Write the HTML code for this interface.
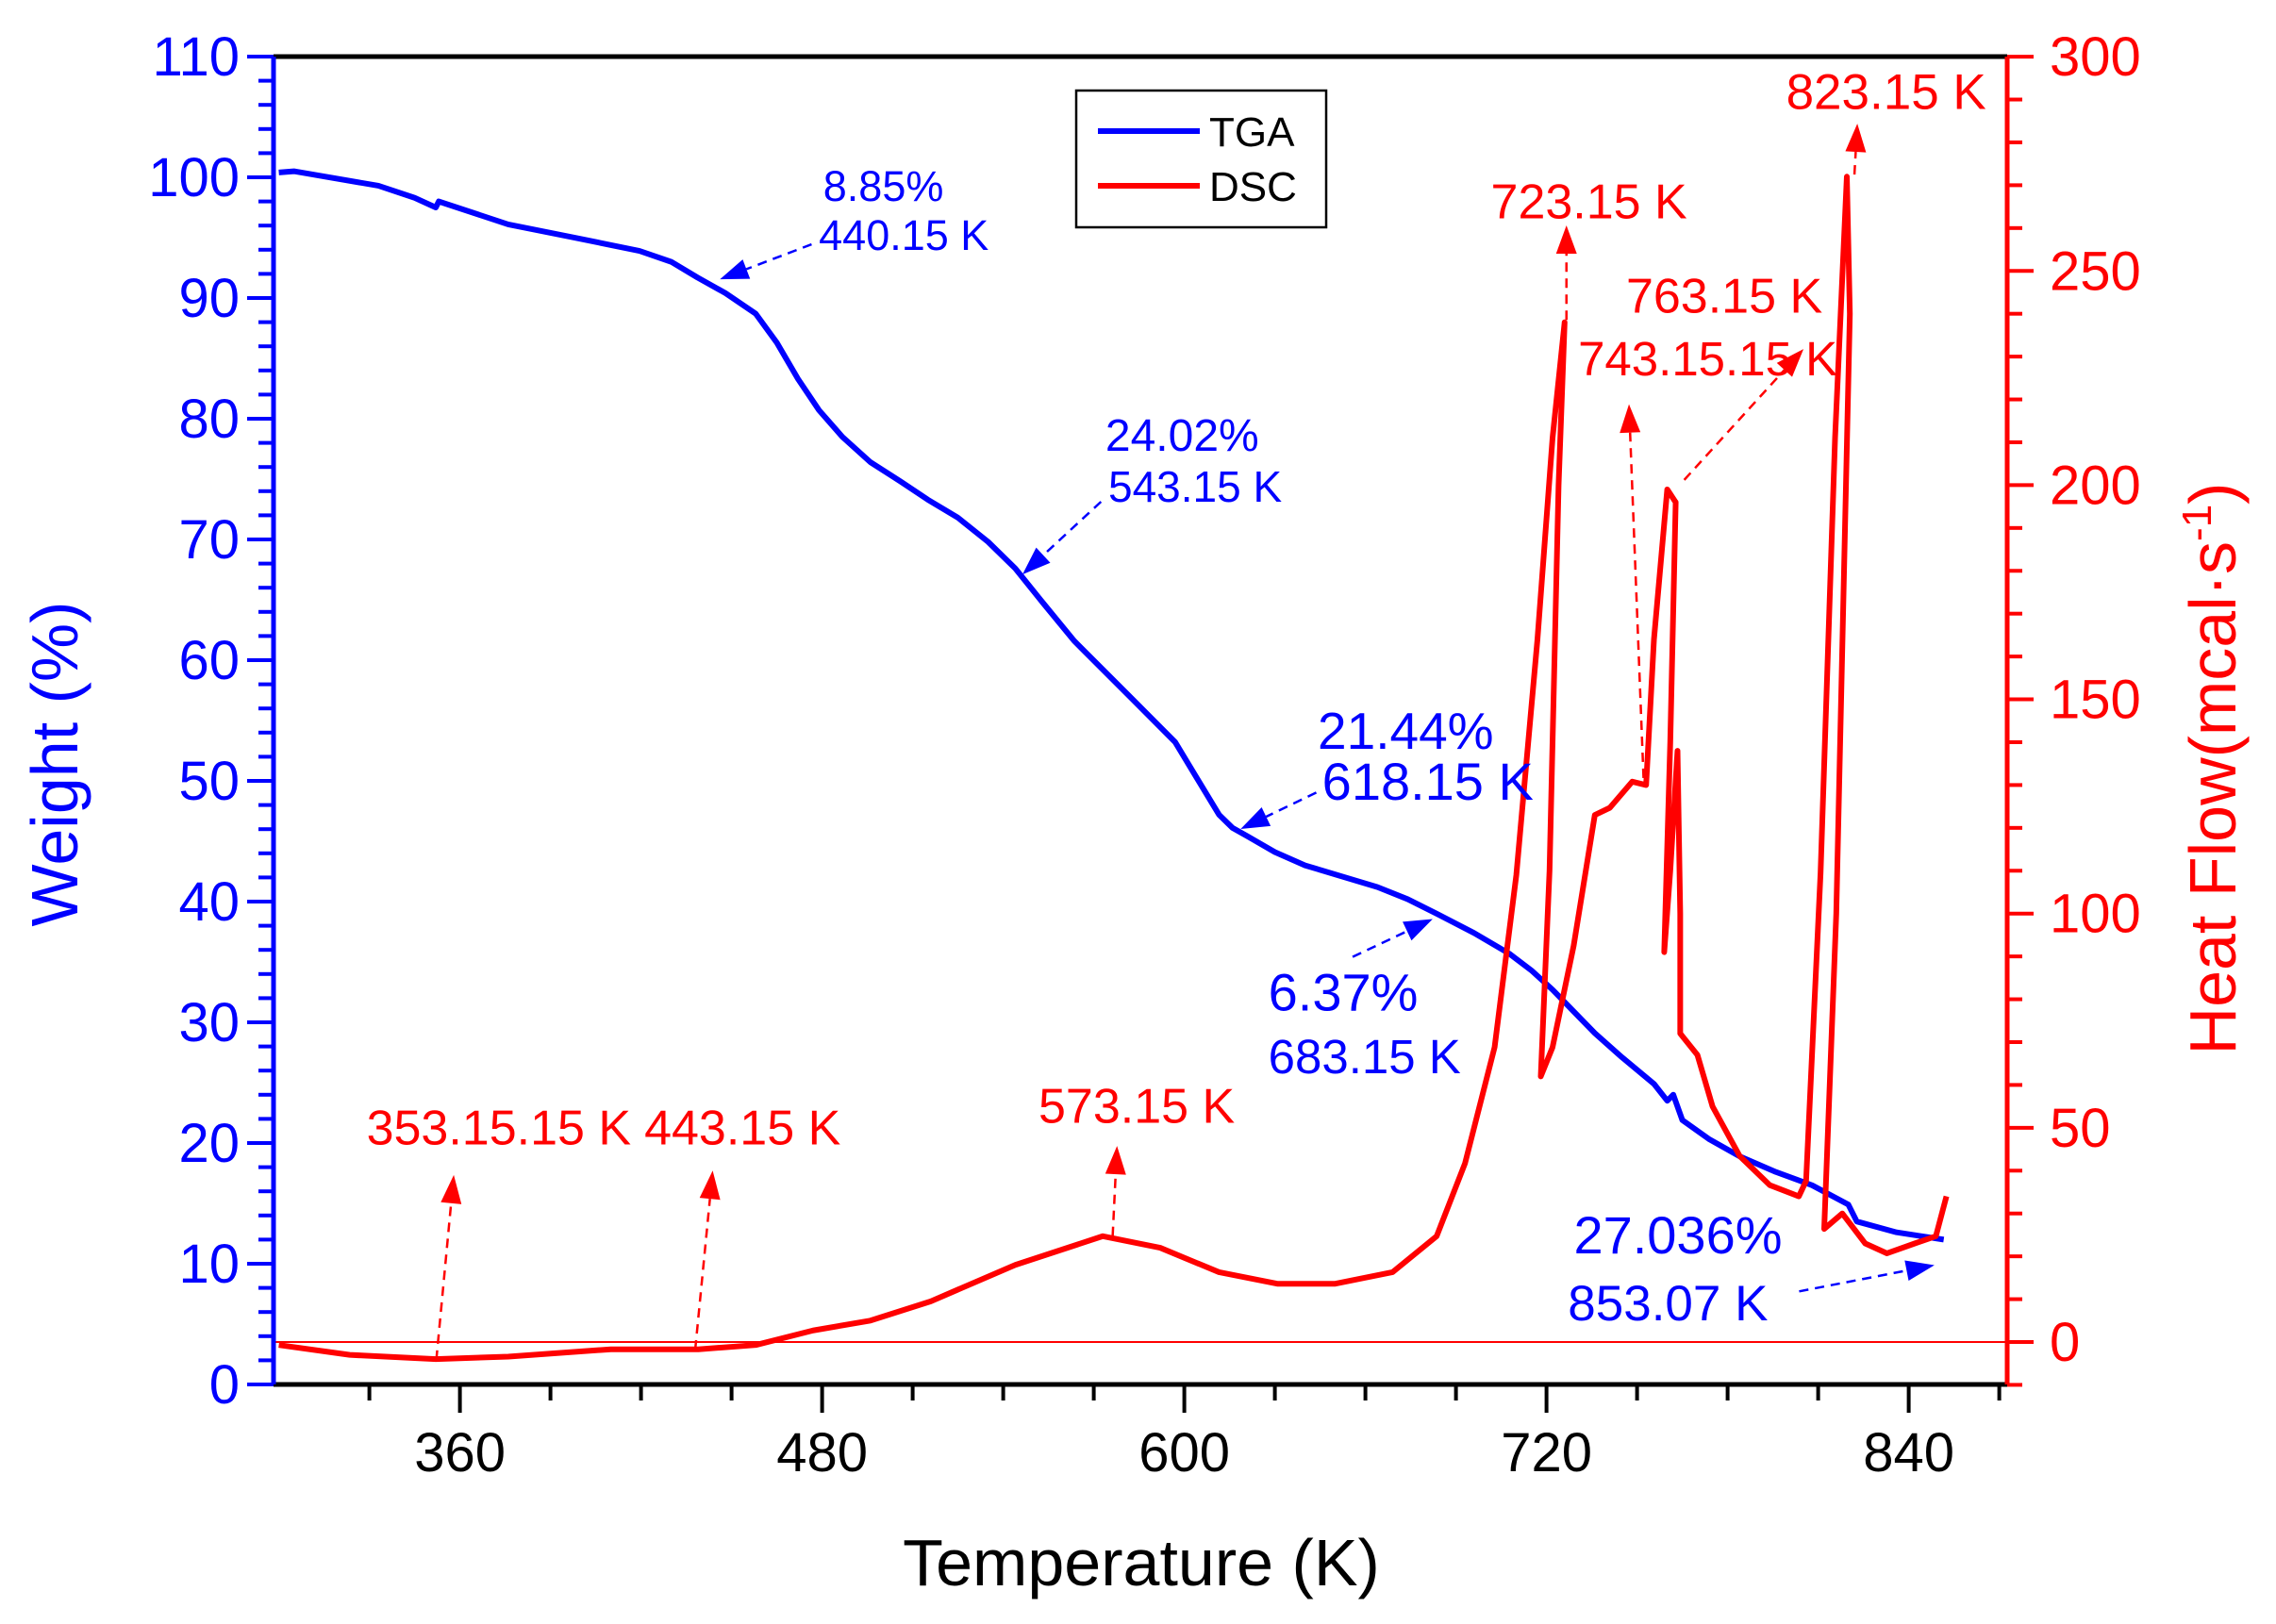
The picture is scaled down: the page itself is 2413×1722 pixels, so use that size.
<!DOCTYPE html>
<html><head><meta charset="utf-8"><style>
html,body{margin:0;padding:0;background:#fff}
svg{display:block;font-family:"Liberation Sans",Arial,sans-serif}
</style></head><body>
<svg id="chart" width="2413" height="1722" viewBox="0 0 2413 1722" xmlns="http://www.w3.org/2000/svg">
<g id="axes"></g>
<g id="series"></g>
<g id="annot"></g>
<g>
<rect x="1141" y="96" width="265" height="145" fill="#fff" stroke="#000" stroke-width="2.5"/>
<line x1="1164" y1="139" x2="1272" y2="139" stroke="#0000ff" stroke-width="6"/>
<text x="1282" y="155" font-size="44">TGA</text>
<line x1="1164" y1="197" x2="1272" y2="197" stroke="#ff0000" stroke-width="6"/>
<text x="1282" y="213" font-size="44">DSC</text>
</g>
<text x="1210" y="1681" font-size="70" text-anchor="middle">Temperature (K)</text>
<text transform="translate(82,810) rotate(-90)" font-size="70" fill="#0000ff" text-anchor="middle">Weight (%)</text>
<text transform="translate(2370,815) rotate(-90)" font-size="70" fill="#ff0000" text-anchor="middle">Heat Flow(mcal·s<tspan dy="-26" font-size="44">-1</tspan><tspan dy="26">)</tspan></text>
</svg>
<script>
const tgaT=[300,305,333,345,352,353,376,400,419.5,430,438.7,448,458,465,472,479,486.7,496,506,515,525,535,544,553,563.5,582.7,597,604,611.5,616,621,630,640,652,664,674,683.6,696,707.6,715,722,729,736,745,755.6,760,762,765,774,784,796,808,820,822.8,836,851.6];
const tgaW=[100.4,100.5,99.3,98.3,97.5,98.0,96.1,94.9,93.9,93.0,91.7,90.4,88.7,86.3,83.3,80.7,78.5,76.4,74.8,73.3,71.8,69.8,67.6,64.8,61.6,56.8,53.2,50.3,47.2,46.1,45.4,44.1,43,42.1,41.2,40.2,39,37.4,35.7,34.3,32.7,30.9,29.1,27.1,24.9,23.5,24.0,21.9,20.3,18.9,17.6,16.5,14.9,13.5,12.6,12.0];
const dscT=[300,323.5,352,376,410,439,458,477,496,516,544,573,592,611.5,630.8,650,669,683.6,693,702.8,710,717,722,726,724,721,718.1,722,729,736,741,748.4,753,755.6,760,762.8,761,759,761,763.4,764.3,764.3,770,775,784,794,803.6,806,810.8,815.6,819.5,820.5,816,812,818,825.6,832.8,842,849,852.5];
const dscH=[-0.7,-3,-4,-3.4,-1.7,-1.7,-0.7,2.7,5,9.5,18,24.7,22,16.3,13.6,13.6,16.3,24.7,41.7,68.8,109,164,211,238,200,110,62,68.8,92.5,123,124.7,130.8,130,164,199,196,140,91,110,138,100,72,67,55,43.4,36.6,34,37.6,109.5,211,272,240,100,26.4,30,23,20.7,23,24.7,34];
const xTicks=[360,480,600,720,840];
const xMinor=[330,390,420,450,510,540,570,630,660,690,750,780,810,870];
const yLeftTicks=[0,10,20,30,40,50,60,70,80,90,100,110];
const yRightTicks=[0,50,100,150,200,250,300];

const X=T=>487.6+(T-360)*3.2;
const YL=W=>1468-W*12.8;
const YR=H=>1423-H*4.543;
const L=290,R=2128,TOP=60,BOT=1468;
const NS='http://www.w3.org/2000/svg';
function mk(tag,attrs,parent){const e=document.createElementNS(NS,tag);for(const k in attrs)e.setAttribute(k,attrs[k]);parent.appendChild(e);return e;}
const ax=document.getElementById('axes');
let z=mk('line',{x1:L,y1:YR(0),x2:R,y2:YR(0),stroke:'#ff0000','stroke-width':2},ax);


let tp=mk('line',{x1:L,y1:TOP,x2:R,y2:TOP,stroke:'#000','stroke-width':5},ax);


let bt=mk('line',{x1:L,y1:BOT,x2:R,y2:BOT,stroke:'#000','stroke-width':5},ax);


xTicks.forEach(t=>{let l=mk('line',{x1:X(t),y1:BOT,x2:X(t),y2:BOT+30,stroke:'#000','stroke-width':4},ax);


let tx=mk('text',{x:X(t),y:BOT+92,'font-size':58,'text-anchor':'middle'},ax);tx.textContent=t;

});
xMinor.forEach(t=>{if(X(t)>=R)return;let l=mk('line',{x1:X(t),y1:BOT,x2:X(t),y2:BOT+17,stroke:'#000','stroke-width':4},ax);

});
let la=mk('line',{x1:L,y1:TOP,x2:L,y2:BOT,stroke:'#0000ff','stroke-width':5},ax);


for(let w=0;w<=110;w+=2){const maj=w%10===0;let l=mk('line',{x1:L-(maj?28:16),y1:YL(w),x2:L,y2:YL(w),stroke:'#0000ff','stroke-width':4},ax);

}
yLeftTicks.forEach(w=>{let tx=mk('text',{x:L-36,y:YL(w)+20,'font-size':58,'text-anchor':'end',fill:'#0000ff'},ax);tx.textContent=w;

});
let ra=mk('line',{x1:R,y1:TOP,x2:R,y2:BOT,stroke:'#ff0000','stroke-width':5},ax);


for(let h=-10;h<=300;h+=10){const maj=h%50===0;let l=mk('line',{x1:R,y1:YR(h),x2:R+(maj?28:16),y2:YR(h),stroke:'#ff0000','stroke-width':4},ax);

}
yRightTicks.forEach(h=>{let tx=mk('text',{x:R+45,y:YR(h)+20,'font-size':58,fill:'#ff0000'},ax);tx.textContent=h;

});

const sg=document.getElementById('series');
let tg=mk('polyline',{points:tgaT.map((t,i)=>X(t)+','+YL(tgaW[i])).join(' '),fill:'none',stroke:'#0000ff','stroke-width':6,'stroke-linejoin':'round'},sg);


let ds=mk('polyline',{points:dscT.map((t,i)=>X(t)+','+YR(dscH[i])).join(' '),fill:'none',stroke:'#ff0000','stroke-width':6,'stroke-linejoin':'round'},sg);



const an=document.getElementById('annot');
const f=1.542;
function lab(txt,x,y,col,fs,name){let t=mk('text',{x:x*f,y:y*f,'font-size':fs,fill:col},an);t.textContent=txt;

}
function arr(x1,y1,x2,y2,col,name){let dx=x2-x1,dy=y2-y1,d=Math.hypot(dx,dy),ux=dx/d,uy=dy/d,px=-uy,py=ux,tx=x2*f,ty=y2*f,len=30,w=11;
let l=mk('line',{x1:x1*f,y1:y1*f,x2:tx-ux*len,y2:ty-uy*len,stroke:col,'stroke-width':2.5,'stroke-dasharray':'10,7'},an);


let p=mk('polygon',{points:`${tx},${ty} ${tx-ux*len+px*w},${ty-uy*len+py*w} ${tx-ux*len-px*w},${ty-uy*len-py*w}`,fill:col},an);

}
const B='#0000ff',Rd='#ff0000';
lab('8.85%',566,138,B,45,'tga-annot-1-pct');lab('440.15 K',563,172,B,45,'tga-annot-1-temp');arr(558,168,495,192,B,'tga-arrow-1');
lab('24.02%',760,310,B,48,'tga-annot-2-pct');lab('543.15 K',762,345,B,46,'tga-annot-2-temp');arr(757,345,703,395,B,'tga-arrow-2');
lab('21.44%',906,515,B,55,'tga-annot-3-pct');lab('618.15 K',909,550,B,56,'tga-annot-3-temp');arr(905,545,853,570,B,'tga-arrow-3');
lab('6.37%',872,695,B,56,'tga-annot-4-pct');lab('683.15 K',872,738,B,51,'tga-annot-4-temp');arr(930,658,985,632,B,'tga-arrow-4');
lab('27.036%',1082,862,B,56,'tga-annot-5-pct');lab('853.07 K',1078,908,B,53,'tga-annot-5-temp');arr(1237,888,1330,870,B,'tga-arrow-5');
lab('353.15.15 K',252,787,Rd,52,'dsc-annot-353');arr(300,935,312,808,Rd,'dsc-arrow-353');
lab('443.15 K',443,787,Rd,52,'dsc-annot-443');arr(478,928,490,805,Rd,'dsc-arrow-443');
lab('573.15 K',714,772,Rd,52,'dsc-annot-573');arr(765,850,768,788,Rd,'dsc-arrow-573');
lab('723.15 K',1025,150,Rd,52,'dsc-annot-723');arr(1077,220,1077,155,Rd,'dsc-arrow-723');
lab('743.15.15 K',1085,258,Rd,51,'dsc-annot-743');arr(1130,535,1120,278,Rd,'dsc-arrow-743');
lab('763.15 K',1118,215,Rd,52,'dsc-annot-763');arr(1158,330,1240,240,Rd,'dsc-arrow-763');
lab('823.15 K',1228,75,Rd,53,'dsc-annot-823');arr(1275,120,1277,85,Rd,'dsc-arrow-823');
</script>
</body></html>
